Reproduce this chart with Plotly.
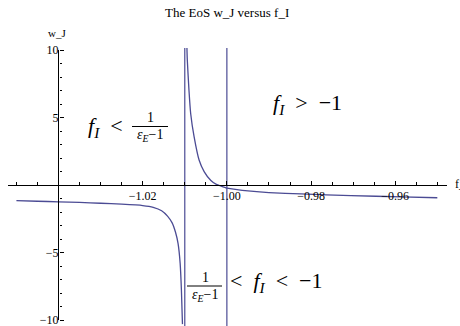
import plotly.graph_objects as go

# ---- data ----
f_left = [-1.050, -1.045, -1.040, -1.035, -1.030, -1.025, -1.020, -1.0175, -1.0155,
          -1.0141, -1.0130, -1.0122, -1.0116, -1.0111, -1.0108, -1.01055]
w_left = [-1.16, -1.20, -1.24, -1.29, -1.35, -1.42, -1.52, -1.65, -1.90,
          -2.30, -2.80, -3.50, -4.32, -5.80, -7.78, -10.3]

f_right = [-1.0095, -1.0094, -1.0090, -1.0086, -1.0078, -1.0066, -1.0054, -1.0038,
           -1.0025, -1.0014, -1.0000, -0.9943, -0.9900, -0.9824, -0.9705, -0.9586, -0.9500]
w_right = [10.3, 9.26, 7.00, 5.30, 3.60, 1.85, 0.99, 0.33,
           0.05, -0.08, -0.22, -0.45, -0.56, -0.66, -0.78, -0.88, -0.94]

asymptotes = [-1.01, -1.00]

x_tickvals = [-1.02, -1.00, -0.98, -0.96]
x_ticktext = ["\u22121.02", "\u22121.00", "\u22120.98", "\u22120.96"]
x_minor = [-1.050, -1.045, -1.035, -1.030, -1.025, -1.015, -1.010, -1.005,
           -0.995, -0.990, -0.985, -0.975, -0.970, -0.965, -0.955, -0.950]
y_tickvals = [-10, -5, 5, 10]
y_ticktext = ["\u221210", "\u22125", "5", "10"]
y_minor = [-9, -8, -7, -6, -4, -3, -2, -1, 1, 2, 3, 4, 6, 7, 8, 9]

# ---- layout geometry ----
W, H = 460, 326
ML, MR, MT, MB = 8, 13, 48, 0
XR = [-1.052, -0.9477]
YR = [-10.44, 10.15]
LINE = "#4b4b94"
SERIF = "Liberation Serif, Times New Roman, serif"


def px(xp):
    return (xp - ML) / (W - ML - MR)


def py(yp):
    return 1 - (yp - MT) / (H - MT - MB)


fig = go.Figure()
fig.add_trace(go.Scatter(x=f_left, y=w_left, mode="lines",
                         line=dict(color=LINE, width=1.3, shape="spline", smoothing=0.5),
                         hoverinfo="skip"))
fig.add_trace(go.Scatter(x=f_right, y=w_right, mode="lines",
                         line=dict(color=LINE, width=1.3, shape="spline", smoothing=0.5),
                         hoverinfo="skip"))
for a in asymptotes:
    fig.add_trace(go.Scatter(x=[a, a], y=[YR[0] - 1, YR[1] + 1], mode="lines",
                             line=dict(color=LINE, width=1.2), hoverinfo="skip"))
# y axis line only between -10 and 10, as in the reference
fig.add_trace(go.Scatter(x=[-1.04, -1.04], y=[y_tickvals[0], y_tickvals[-1]], mode="lines",
                         line=dict(color="black", width=1), hoverinfo="skip"))

yaxis_pos = (-1.04 - XR[0]) / (XR[1] - XR[0])
xaxis_pos = (0 - YR[0]) / (YR[1] - YR[0])

fig.update_layout(
    width=W, height=H,
    margin=dict(l=ML, r=MR, t=MT, b=MB),
    paper_bgcolor="white", plot_bgcolor="white",
    showlegend=False,
    font=dict(family=SERIF, size=12, color="black"),
    xaxis=dict(range=XR, anchor="free", position=xaxis_pos, showgrid=False, zeroline=False,
               showline=True, linecolor="black", linewidth=1,
               tickmode="array", tickvals=x_tickvals, ticktext=x_ticktext,
               ticks="inside", ticklen=4, tickwidth=1, tickcolor="black",
               ticklabeloverflow="allow",
               tickfont=dict(family=SERIF, size=12),
               minor=dict(tickmode="array", tickvals=x_minor, ticks="inside",
                          ticklen=3, tickcolor="black", showgrid=False)),
    yaxis=dict(range=YR, anchor="free", position=yaxis_pos, showgrid=False, zeroline=False,
               showline=False,
               tickmode="array", tickvals=y_tickvals, ticktext=y_ticktext,
               ticks="inside", ticklen=4, tickwidth=1, tickcolor="black",
               ticklabeloverflow="allow",
               tickfont=dict(family=SERIF, size=12),
               minor=dict(tickmode="array", tickvals=y_minor, ticks="inside",
                          ticklen=2.5, tickcolor="black", showgrid=False)),
)

ann = []


def text(xp, yp, s, size, xanchor="center"):
    ann.append(dict(x=px(xp), y=py(yp), xref="paper", yref="paper", text=s,
                    showarrow=False, xanchor=xanchor, yanchor="middle",
                    font=dict(family=SERIF, size=size, color="black")))


text(227, 13, "The EoS w_J versus f_I", 13)
text(57, 33, "w_J", 11)
text(453, 184, "f_I", 12, xanchor="left")

# region 1: f_I < 1/(eps_E - 1)
text(86, 127, "<i>f</i><sub><i>I</i></sub>&nbsp; &lt;", 22, xanchor="left")
text(150, 117, "1", 14)
text(150, 135, "<i>\u03b5</i><sub><i>E</i></sub>\u22121", 14)
# region 3: f_I > -1
text(271, 104, "<i>f</i><sub><i>I</i></sub>&nbsp; &gt;&nbsp; \u22121", 22, xanchor="left")
# region 2: 1/(eps_E - 1) < f_I < -1
text(205, 277, "1", 14)
text(205, 295, "<i>\u03b5</i><sub><i>E</i></sub>\u22121", 14)
text(228, 282, "&lt;&nbsp; <i>f</i><sub><i>I</i></sub>&nbsp; &lt;&nbsp; \u22121", 22,
     xanchor="left")

fig.update_layout(annotations=ann)

shapes = [
    dict(type="line", xref="paper", yref="paper", x0=px(132), x1=px(168),
         y0=py(126.5), y1=py(126.5), line=dict(color="black", width=1)),
    dict(type="line", xref="paper", yref="paper", x0=px(187), x1=px(222),
         y0=py(286), y1=py(286), line=dict(color="black", width=1)),
]
fig.update_layout(shapes=shapes)

fig.write_html("out.html", config={"displayModeBar": False},
               post_script="document.body.style.margin='0px';")
